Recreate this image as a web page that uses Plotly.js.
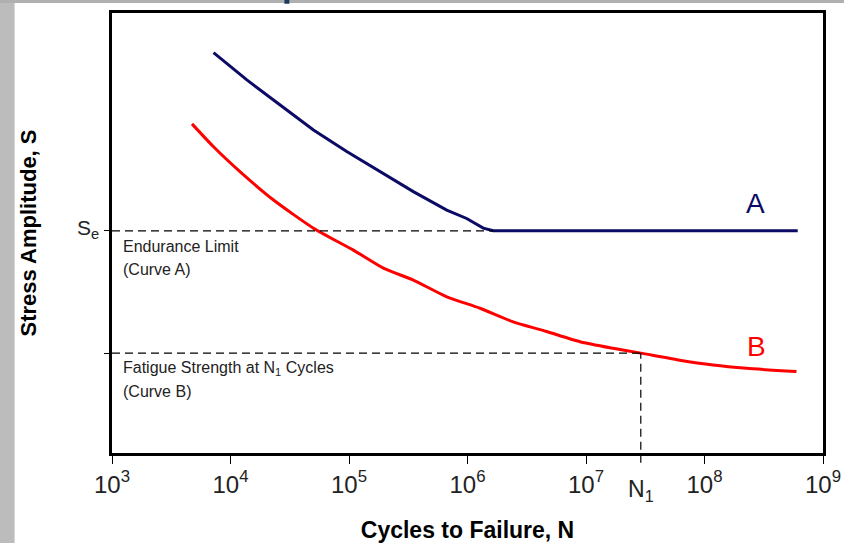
<!DOCTYPE html>
<html>
<head>
<meta charset="utf-8">
<script src="https://cdn.plot.ly/plotly-3.0.1.min.js"></script>
<style>html,body{margin:0;padding:0;background:#fff;}#chart{width:844px;height:543px;}</style>
</head>
<body>
<div id="chart"></div>
<script>
// Curve A (navy): cycles to failure and stress amplitude (arbitrary units)
const curveA_N = [7190, 13740, 26240, 50120, 95700, 182800, 349100, 668300, 984000, 1358000, 1652000, 612000000];
const curveA_S = [91.0, 84.8, 79.1, 73.4, 68.5, 63.9, 59.4, 55.2, 53.3, 51.1, 50.5, 50.5];
// Curve B (red)
const curveB_N = [4732, 7190, 12080, 23070, 50120, 108900, 195000, 349100, 668300, 1274000, 2432000, 4656000, 8892000, 16940000, 29000000, 61800000, 118300000, 225900000, 597000000];
const curveB_S = [74.8, 69.6, 63.9, 57.5, 51.1, 46.1, 42.0, 39.3, 35.5, 32.9, 29.8, 27.6, 25.3, 23.8, 22.7, 21.1, 20.0, 19.25, 18.5];
// Reference levels
const enduranceLimit = 50.5;   // S_e
const fatigueStrength = 22.7;  // at N1
const N1 = 29000000;
const kneeN = 1652000;
// Axis ticks
const xTickVals = [1e3, 1e4, 1e5, 1e6, 1e7, 1e8, 1e9];
const xTickText = ['10<sup>3</sup>', '10<sup>4</sup>', '10<sup>5</sup>', '10<sup>6</sup>', '10<sup>7</sup>', '10<sup>8</sup>', '10<sup>9</sup>'];

const FONT = '"Liberation Sans", Arial, Helvetica, sans-serif';
const NAVY = '#0b0b66';
const RED = '#ff0000';

const traces = [
  {x: curveA_N, y: curveA_S, type: 'scatter', mode: 'lines', name: 'Curve A',
   line: {color: NAVY, width: 3}, hoverinfo: 'x+y'},
  {x: curveB_N, y: curveB_S, type: 'scatter', mode: 'lines', name: 'Curve B',
   line: {color: RED, width: 3, shape: 'spline', smoothing: 0.6}, hoverinfo: 'x+y'}
];

const dash = '8px,5px';
const shapes = [
  // slide background decorations
  {type: 'rect', xref: 'paper', yref: 'paper', x0: -0.16, x1: -0.137, y0: -0.21, y1: 1.035,
   fillcolor: '#bcbcbc', line: {width: 0}, layer: 'below'},
  {type: 'rect', xref: 'paper', yref: 'paper', x0: -0.16, x1: 1.04, y0: 1.0227, y1: 1.035,
   fillcolor: '#b0b0b0', line: {width: 0}, layer: 'below'},
  {type: 'rect', xref: 'paper', yref: 'paper', x0: 0.2425, x1: 0.2495, y0: 1.021, y1: 1.035,
   fillcolor: '#1f3a60', line: {width: 0}, layer: 'below'},
  // endurance limit dashed line
  {type: 'line', xref: 'x', yref: 'y', x0: 1000, x1: kneeN, y0: enduranceLimit, y1: enduranceLimit,
   line: {color: '#000', width: 1.2, dash: dash}},
  // fatigue strength dashed line
  {type: 'line', xref: 'x', yref: 'y', x0: 1000, x1: N1, y0: fatigueStrength, y1: fatigueStrength,
   line: {color: '#000', width: 1.2, dash: dash}},
  // vertical dashed line at N1 (continues below axis as a tick)
  {type: 'line', xref: 'x', yref: 'paper', x0: N1, x1: N1, y0: -0.022, y1: fatigueStrength / 100,
   line: {color: '#000', width: 1.2, dash: dash}}
];

const annFont = {family: FONT, size: 16, color: '#222'};
const annotations = [
  {xref: 'paper', yref: 'y', x: 0.012, y: 47.0, xanchor: 'left', yanchor: 'middle', text: 'Endurance Limit', showarrow: false, font: annFont},
  {xref: 'paper', yref: 'y', x: 0.012, y: 41.6, xanchor: 'left', yanchor: 'middle', text: '(Curve A)', showarrow: false, font: annFont},
  {xref: 'paper', yref: 'y', x: 0.012, y: 19.2, xanchor: 'left', yanchor: 'middle', text: 'Fatigue Strength at N<sub>1</sub> Cycles', showarrow: false, font: annFont},
  {xref: 'paper', yref: 'y', x: 0.012, y: 13.9, xanchor: 'left', yanchor: 'middle', text: '(Curve B)', showarrow: false, font: annFont},
  {xref: 'paper', yref: 'y', x: -0.034, y: 50.8, xanchor: 'center', yanchor: 'middle', text: 'S<sub>e</sub>', showarrow: false, font: {family: FONT, size: 21, color: '#222'}},
  {xref: 'x', yref: 'y', x: 8.433, y: 56.8, xanchor: 'center', yanchor: 'middle', text: 'A', showarrow: false, font: {family: FONT, size: 28, color: NAVY}},
  {xref: 'x', yref: 'y', x: 8.44, y: 24.1, xanchor: 'center', yanchor: 'middle', text: 'B', showarrow: false, font: {family: FONT, size: 28, color: RED}},
  {xref: 'x', yref: 'paper', x: Math.log10(N1), y: -0.085, xanchor: 'center', yanchor: 'middle', text: 'N<sub>1</sub>', showarrow: false, font: {family: FONT, size: 23, color: '#222'}}
];

const layout = {
  width: 844, height: 543,
  margin: {l: 112, r: 21, t: 13, b: 90},
  paper_bgcolor: '#fff', plot_bgcolor: '#fff',
  showlegend: false,
  font: {family: FONT, color: '#222'},
  xaxis: {
    type: 'log', range: [3, 9],
    tickvals: xTickVals, ticktext: xTickText,
    ticks: 'outside', ticklen: 8, tickwidth: 1, tickcolor: '#000',
    tickfont: {family: FONT, size: 24, color: '#222'},
    showline: true, linecolor: '#000', linewidth: 2.5, mirror: true,
    showgrid: false, zeroline: false,
    title: {text: 'Cycles to Failure, N', font: {family: FONT, size: 23, color: '#000', weight: 'bold'}, standoff: 26},
    automargin: false
  },
  yaxis: {
    range: [0, 100],
    tickvals: [fatigueStrength, enduranceLimit], showticklabels: false,
    ticks: 'outside', ticklen: 5, tickwidth: 1, tickcolor: '#000',
    showline: true, linecolor: '#000', linewidth: 2.5, mirror: true,
    showgrid: false, zeroline: false,
    title: {text: 'Stress Amplitude, S', font: {family: FONT, size: 22, color: '#000', weight: 'bold'}, standoff: 62},
    automargin: false
  },
  shapes: shapes,
  annotations: annotations
};

Plotly.newPlot('chart', traces, layout, {displayModeBar: false});
</script>
</body>
</html>
